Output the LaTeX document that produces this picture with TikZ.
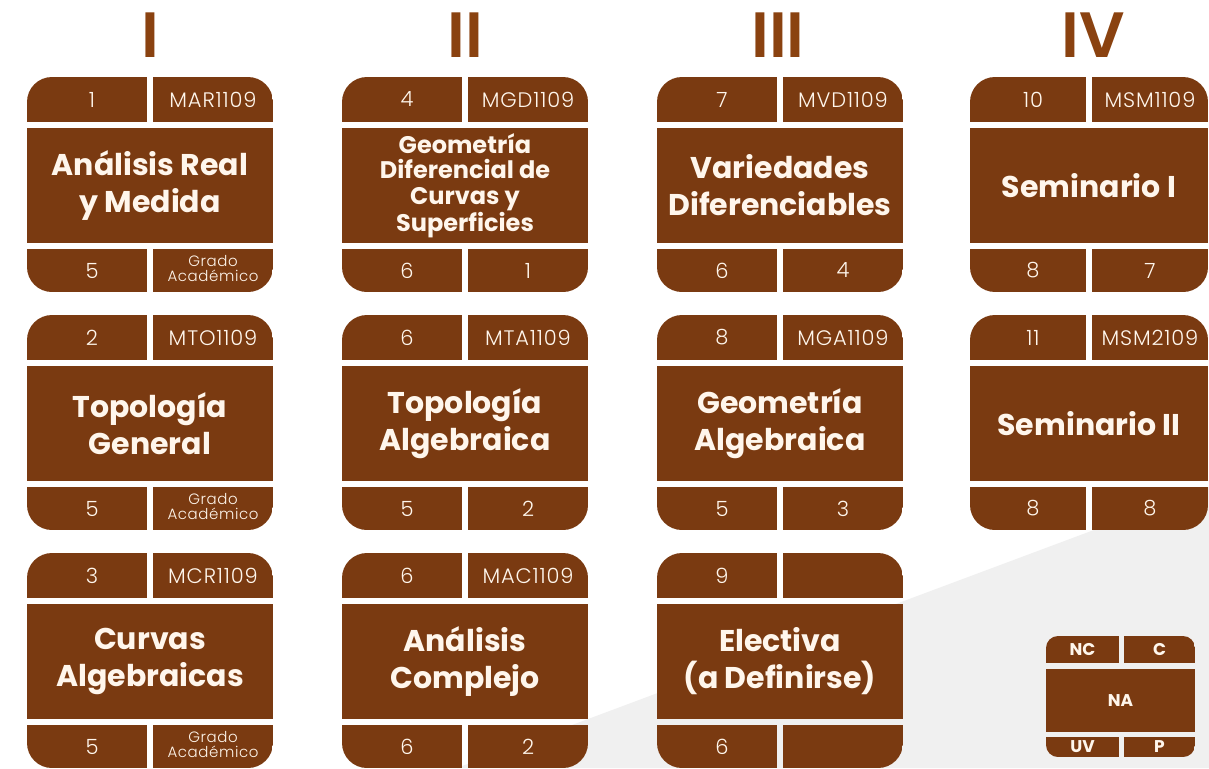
\documentclass[tikz,border=0pt]{standalone}
\usepackage{fontspec}
\setmainfont{Poppins}
\newfontfamily\lightf{Poppins Light}[LetterSpace=4]
\newfontfamily\semib{Poppins SemiBold}
\usetikzlibrary{calc}
\definecolor{cardbrown}{HTML}{7A3A11}
\definecolor{headbrown}{HTML}{8A4210}
\definecolor{cream}{HTML}{FFF6EC}
\definecolor{bggray}{HTML}{F0F0F0}
\newcommand\titlesz{\bfseries\fontsize{30}{37}\selectfont}
\tikzset{
  cell/.style={fill=cardbrown},
  numtxt/.style={text=cream, font=\lightf\fontsize{21}{21}\selectfont, align=center, inner sep=0pt},
  titletxt/.style={text=cream, font=\titlesz, align=center, inner sep=0pt},
  headtxt/.style={text=headbrown, font=\semib\fontsize{64}{64}\selectfont, inner sep=0pt, anchor=base},
  legtxt/.style={text=cream, font=\bfseries\fontsize{17}{17}\selectfont, inner sep=0pt},
}
\newcommand\card[9]{%
  \pgfmathsetmacro\lw{(#3-6)/2}%
  \begin{scope}
    \clip[rounded corners=25pt] (#1,#2) rectangle (#1+#3,#2+215);
    \fill[cell] (#1,#2) rectangle (#1+\lw,#2+45);
    \fill[cell] (#1+\lw+6,#2) rectangle (#1+#3,#2+45);
    \fill[cell] (#1,#2+51) rectangle (#1+#3,#2+166);
    \fill[cell] (#1,#2+172) rectangle (#1+\lw,#2+215);
    \fill[cell] (#1+\lw+6,#2+172) rectangle (#1+#3,#2+215);
  \end{scope}
  \node[numtxt] (#4n) at (#1+\lw/2+5,#2+22.5) {#5};
  \node[numtxt] (#4c) at (#1+\lw*1.5+6,#2+22.5) {#6};
  \node[titletxt] (#4t) at (#1+#3/2,#2+108.5) {#7};
  \node[numtxt] (#4u) at (#1+\lw/2+5,#2+193.5) {#8};
  \node[numtxt] (#4p) at (#1+\lw*1.5+6,#2+193.5) {#9};
}
\newcommand\gradoac{\raisebox{-4pt}{\fontsize{15}{12.5}\selectfont\renewcommand\arraystretch{1}\begin{tabular}{@{}c@{}}Grado\\Académico\end{tabular}}}
\begin{document}
\begin{tikzpicture}[x=1pt,y=-1pt]
  \useasboundingbox (0,0) rectangle (1209,768);
  \fill[white] (0,0) rectangle (1209,768);
  \fill[bggray] (457,768) -- (1209,487) -- (1209,768) -- cycle;
  % headers
  \node[headtxt] (hI) at (150,57) {I};
  \node[headtxt] (hII) at (465,57) {II};
  \node[headtxt] (hIII) at (778,57) {III};
  \node[headtxt] (hIV) at (1093,57) {IV};
  % cards
  \card{27}{77}{246}{aa}{1}{MAR1109}{Análisis Real\\y Medida}{5}{\gradoac}
  \card{27}{315}{246}{ab}{2}{MTO1109}{Topología\\General}{5}{\gradoac}
  \card{27}{553}{246}{ac}{3}{MCR1109}{Curvas\\Algebraicas}{5}{\gradoac}
  {\renewcommand\titlesz{\bfseries\fontsize{24}{25.5}\selectfont}%
  \card{342}{77}{246}{ba}{4}{MGD1109}{Geometría\\Diferencial de\\Curvas y\\Superficies}{6}{1}}
  \card{342}{315}{246}{bb}{6}{MTA1109}{Topología\\Algebraica}{5}{2}
  \card{342}{553}{246}{bc}{6}{MAC1109}{Análisis\\Complejo}{6}{2}
  \card{657}{77}{246}{ca}{7}{MVD1109}{Variedades\\Diferenciables}{6}{4}
  \card{657}{315}{246}{cb}{8}{MGA1109}{Geometría\\Algebraica}{5}{3}
  \card{657}{553}{246}{cc}{9}{}{Electiva\\(a Definirse)}{6}{}
  \card{970}{77}{238}{da}{10}{MSM1109}{Seminario I}{8}{7}
  \card{970}{315}{238}{db}{11}{MSM2109}{Seminario II}{8}{8}
  % legend
  \begin{scope}
    \clip[rounded corners=12pt] (1046,636) rectangle (1195,757);
    \fill[cell] (1046,636) rectangle (1119,663);
    \fill[cell] (1124,636) rectangle (1195,663);
    \fill[cell] (1046,669) rectangle (1195,732);
    \fill[cell] (1046,737) rectangle (1119,757);
    \fill[cell] (1124,737) rectangle (1195,757);
  \end{scope}
  \node[legtxt] (lnc) at (1082.5,649.5) {NC};
  \node[legtxt] (lc) at (1159.5,649.5) {C};
  \node[legtxt] (lna) at (1120.5,700.5) {NA};
  \node[legtxt] (luv) at (1082.5,747) {UV};
  \node[legtxt] (lp) at (1159.5,747) {P};
\end{tikzpicture}
\end{document}
